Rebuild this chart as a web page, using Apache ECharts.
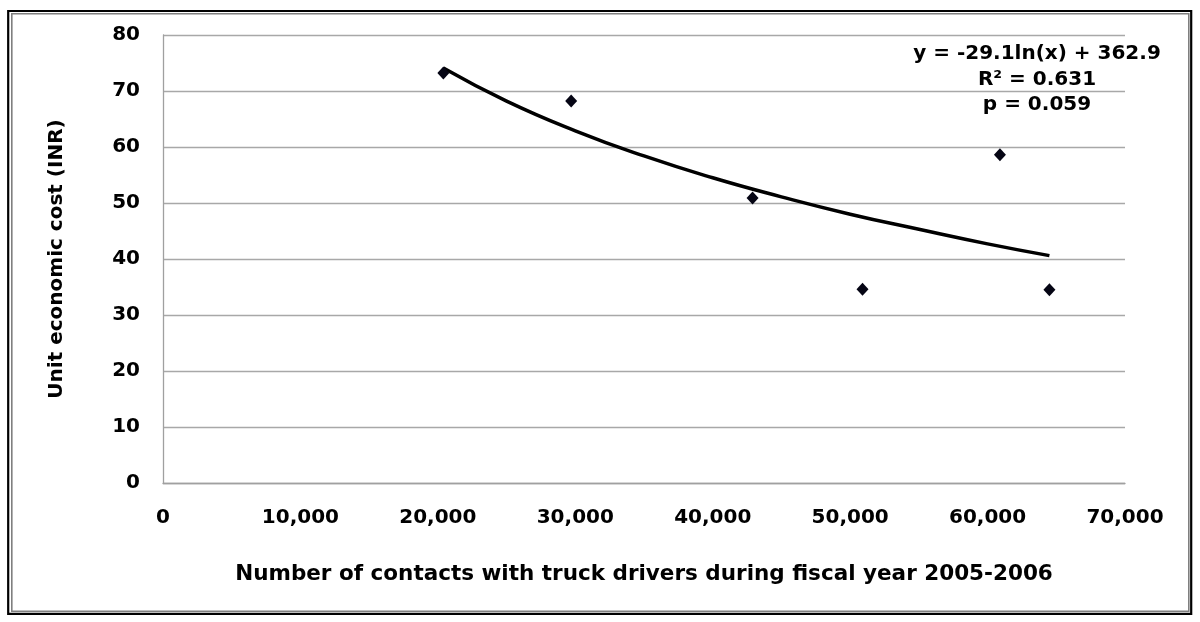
<!DOCTYPE html>
<html>
<head>
<meta charset="utf-8">
<title>Unit economic cost vs contacts</title>
<script src="https://cdn.jsdelivr.net/npm/echarts@6.0.0/dist/echarts.min.js"></script>
<style>
  html, body { margin: 0; padding: 0; background: #fff; }
  #chart { width: 1200px; height: 622px; }
</style>
</head>
<body>
<div id="chart"></div>
<script>
const contacts = [20400, 29700, 42900, 50900, 60900, 64500]
const unitCost = [73.2, 68.2, 50.9, 34.6, 58.6, 34.5]

// logarithmic trend line, read at several x positions
const trendX = [20400, 25000, 30000, 35000, 40000, 45000, 50000, 55000, 60000, 64500]
const trendY = [74.1, 68.2, 62.9, 58.4, 54.5, 51.1, 48.0, 45.3, 42.7, 40.6]

const fitLines = ['y = -29.1ln(x) + 362.9', 'R² = 0.631', 'p = 0.059']

const xTitle = 'Number of contacts with truck drivers during fiscal year 2005-2006'
const yTitle = 'Unit economic cost (INR)'

const FONT = 'DejaVu Sans'
const textBase = { color: '#000', fontFamily: FONT, fontWeight: 'bold', fontSize: 20 }

const chart = echarts.init(document.getElementById('chart'))

const fitText = fitLines.map((t, i) => ({
  type: 'text',
  x: 1037,
  y: 54 + i * 25.5,
  style: {
    text: t,
    fill: '#000',
    font: 'bold 20px "DejaVu Sans"',
    align: 'center',
    verticalAlign: 'middle',
    textAlign: 'center',
    textVerticalAlign: 'middle'
  }
}))

chart.setOption({
  animation: false,
  backgroundColor: '#fff',
  grid: { left: 163, right: 75, top: 35, bottom: 139 },
  xAxis: {
    type: 'value',
    min: 0,
    max: 70000,
    interval: 10000,
    name: xTitle,
    nameLocation: 'middle',
    nameGap: 80,
    nameTextStyle: { ...textBase, fontSize: 21.5 },
    axisLine: { show: true, lineStyle: { color: '#a0a0a0', width: 1.3 } },
    axisTick: { show: false },
    splitLine: { show: false },
    axisLabel: {
      ...textBase,
      margin: 25,
      formatter: v => v.toLocaleString('en-US')
    }
  },
  yAxis: {
    type: 'value',
    min: 0,
    max: 80,
    interval: 10,
    name: yTitle,
    nameLocation: 'middle',
    nameGap: 96,
    nameTextStyle: textBase,
    axisLine: { show: true, lineStyle: { color: '#a0a0a0', width: 1.3 } },
    axisTick: { show: false },
    splitLine: { show: true, lineStyle: { color: '#a8a8a8', width: 1.3 } },
    axisLabel: { ...textBase, margin: 23 }
  },
  series: [
    {
      name: 'Trend',
      type: 'line',
      smooth: true,
      showSymbol: false,
      data: trendX.map((x, i) => [x, trendY[i]]),
      lineStyle: { color: '#000', width: 3.5 },
      z: 2
    },
    {
      name: 'Unit cost',
      type: 'scatter',
      symbol: 'diamond',
      symbolSize: [12, 13],
      data: contacts.map((x, i) => [x, unitCost[i]]),
      itemStyle: { color: '#050514', opacity: 1 },
      z: 3
    }
  ],
  graphic: [
    {
      type: 'rect',
      shape: { x: 8.2, y: 11, width: 1183, height: 602.8 },
      style: { fill: 'none', stroke: '#000', lineWidth: 2.2 },
      silent: true
    },
    {
      type: 'rect',
      shape: { x: 11.8, y: 13.8, width: 1177, height: 597.5 },
      style: { fill: 'none', stroke: '#7f7f7f', lineWidth: 1.6 },
      silent: true
    },
    ...fitText
  ]
})

window.addEventListener('resize', () => chart.resize())
</script>
</body>
</html>
